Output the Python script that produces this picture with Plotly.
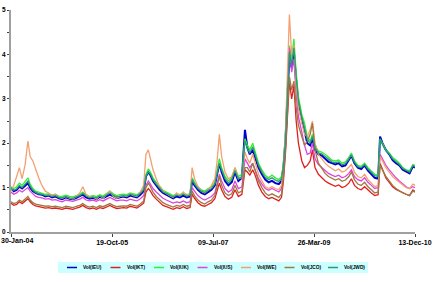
import plotly.graph_objects as go

dates = [
    "2004-01-30","2004-02-16","2004-03-05","2004-03-22","2004-04-08","2004-04-26","2004-05-14","2004-05-28","2004-06-14",
    "2004-07-01","2004-07-20","2004-08-09","2004-08-30","2004-09-20","2004-10-11","2004-11-01","2004-11-22","2004-12-13",
    "2005-01-05","2005-01-28","2005-02-18","2005-03-11","2005-04-01","2005-04-20","2005-05-10","2005-06-01","2005-06-22",
    "2005-07-13","2005-08-03","2005-08-24","2005-09-14","2005-10-05","2005-10-26","2005-11-16","2005-12-07","2005-12-28",
    "2006-01-18","2006-02-08","2006-03-01","2006-03-22","2006-04-12","2006-05-03","2006-05-17","2006-06-01","2006-06-14",
    "2006-06-30","2006-07-20","2006-08-10","2006-08-31","2006-09-21","2006-10-12","2006-11-02","2006-11-23","2006-12-14",
    "2007-01-04","2007-01-25","2007-02-15","2007-02-28","2007-03-15","2007-04-05","2007-04-26","2007-05-17","2007-06-07",
    "2007-06-28","2007-07-19","2007-08-02","2007-08-16","2007-08-30","2007-09-20","2007-10-11","2007-11-01","2007-11-21",
    "2007-12-12",
    "2008-01-03","2008-01-22","2008-02-06","2008-02-21","2008-03-10","2008-03-25","2008-04-15","2008-05-06","2008-05-27",
    "2008-06-17","2008-07-08","2008-07-29","2008-08-19","2008-09-05","2008-09-17","2008-09-30","2008-10-10","2008-10-24",
    "2008-11-07","2008-11-21","2008-12-05","2008-12-19",
    "2009-01-09","2009-01-26","2009-02-12","2009-03-02","2009-03-16","2009-04-01","2009-04-22","2009-05-13","2009-06-03",
    "2009-06-24","2009-07-15","2009-08-05","2009-08-26","2009-09-16","2009-10-07","2009-10-28","2009-11-13","2009-12-02",
    "2009-12-23",
    "2010-01-13","2010-02-03","2010-02-24","2010-03-17","2010-04-07","2010-04-28","2010-05-10","2010-05-25","2010-06-15",
    "2010-07-06","2010-07-27","2010-08-17","2010-09-07","2010-09-28","2010-10-19","2010-11-09","2010-11-30","2010-12-13",
]

vol_ieu = [
    1.00,0.92,0.95,1.02,0.98,1.05,1.10,1.00,0.92,0.88,0.85,0.84,0.80,0.82,0.78,0.80,0.76,0.74,
    0.78,0.75,0.74,0.77,0.80,0.84,0.78,0.75,0.77,0.74,0.79,0.76,0.80,0.84,0.80,0.76,0.78,0.80,
    0.78,0.82,0.80,0.78,0.84,0.92,1.25,1.35,1.28,1.15,1.05,0.95,0.88,0.84,0.80,0.76,0.80,0.78,
    0.82,0.78,0.80,1.15,1.05,0.95,0.88,0.85,0.90,0.95,1.05,1.30,1.55,1.35,1.15,1.05,1.12,1.35,1.15,
    1.22,2.30,1.90,1.75,1.85,1.70,1.45,1.30,1.18,1.12,1.15,1.10,1.08,1.15,1.45,2.10,3.00,4.00,3.70,4.05,3.40,2.90,
    2.55,2.25,2.00,1.95,2.10,1.85,1.75,1.72,1.65,1.58,1.55,1.52,1.55,1.48,1.50,1.62,1.72,1.55,1.45,
    1.42,1.50,1.38,1.30,1.22,1.20,2.15,2.00,1.85,1.75,1.62,1.55,1.50,1.40,1.35,1.32,1.48,1.45,
]
vol_ikt = [
    0.65,0.60,0.62,0.68,0.64,0.70,0.75,0.68,0.62,0.59,0.57,0.56,0.54,0.55,0.53,0.54,0.52,0.51,
    0.54,0.52,0.51,0.54,0.56,0.60,0.55,0.52,0.54,0.51,0.55,0.53,0.56,0.60,0.56,0.53,0.54,0.55,
    0.54,0.58,0.56,0.54,0.59,0.65,0.90,0.98,0.92,0.82,0.74,0.66,0.60,0.57,0.54,0.51,0.55,0.53,
    0.57,0.53,0.55,0.85,0.76,0.66,0.60,0.58,0.62,0.66,0.75,0.95,1.10,0.95,0.80,0.74,0.78,0.95,0.80,
    0.85,1.40,1.35,1.28,1.40,1.28,1.05,0.90,0.80,0.75,0.78,0.74,0.70,0.78,1.15,1.80,2.60,3.40,3.00,3.30,2.50,2.00,
    1.60,1.45,1.50,1.60,1.85,1.45,1.30,1.22,1.15,1.10,1.06,1.03,1.06,1.00,1.03,1.10,1.20,1.05,0.98,
    0.95,1.02,0.94,0.88,0.82,0.84,1.55,1.40,1.22,1.12,1.02,0.96,0.92,0.88,0.85,0.82,0.95,0.92,
]
vol_iuk = [
    1.02,0.98,1.02,1.10,1.05,1.15,1.22,1.08,0.98,0.92,0.90,0.88,0.85,0.86,0.83,0.85,0.81,0.80,
    0.83,0.80,0.79,0.82,0.85,0.90,0.84,0.80,0.82,0.80,0.84,0.81,0.86,0.92,0.86,0.82,0.84,0.85,
    0.84,0.88,0.86,0.84,0.90,0.98,1.30,1.42,1.35,1.22,1.12,1.02,0.94,0.90,0.86,0.82,0.86,0.84,
    0.88,0.84,0.86,1.22,1.12,1.02,0.95,0.92,0.98,1.02,1.12,1.38,1.65,1.45,1.25,1.15,1.22,1.45,1.25,
    1.30,2.10,1.95,1.85,2.00,1.80,1.55,1.40,1.28,1.22,1.28,1.22,1.18,1.25,1.55,2.20,3.10,4.20,3.90,4.35,3.60,3.05,
    2.65,2.45,2.15,2.05,2.20,1.95,1.82,1.80,1.75,1.68,1.62,1.60,1.62,1.55,1.58,1.68,1.78,1.60,1.50,
    1.48,1.55,1.45,1.38,1.30,1.28,2.10,2.00,1.85,1.78,1.68,1.62,1.55,1.45,1.40,1.38,1.52,1.50,
]
vol_ius = [
    0.90,0.85,0.88,0.94,0.90,0.96,1.00,0.92,0.85,0.80,0.78,0.77,0.74,0.75,0.72,0.73,0.70,0.68,
    0.72,0.70,0.69,0.72,0.74,0.78,0.72,0.70,0.72,0.69,0.73,0.70,0.74,0.78,0.74,0.70,0.72,0.72,
    0.70,0.74,0.72,0.70,0.75,0.82,1.05,1.15,1.08,0.98,0.90,0.82,0.76,0.72,0.68,0.65,0.68,0.66,
    0.70,0.66,0.68,1.00,0.92,0.82,0.76,0.72,0.76,0.80,0.88,1.10,1.30,1.15,0.98,0.90,0.95,1.15,0.98,
    1.02,1.65,1.55,1.45,1.55,1.40,1.20,1.08,0.98,0.94,0.98,0.94,0.90,0.98,1.30,1.95,2.90,4.15,3.60,3.90,3.10,2.60,
    2.25,1.95,1.75,1.78,2.00,1.65,1.52,1.45,1.38,1.32,1.28,1.25,1.28,1.22,1.25,1.32,1.40,1.25,1.18,
    1.15,1.22,1.12,1.05,0.98,1.00,1.75,1.65,1.50,1.40,1.30,1.22,1.15,1.08,1.02,0.98,1.02,1.00,
]
vol_iwe = [
    0.92,1.05,1.25,1.45,1.20,1.50,2.05,1.70,1.60,1.40,1.22,1.05,0.92,0.88,0.82,0.85,0.78,0.76,
    0.80,0.76,0.74,0.80,0.88,1.02,0.85,0.78,0.80,0.74,0.82,0.76,0.84,0.92,0.80,0.76,0.80,0.82,
    0.80,0.86,0.82,0.80,0.90,1.05,1.75,1.85,1.65,1.40,1.20,1.02,0.92,0.86,0.82,0.78,0.88,0.82,
    0.90,0.82,0.86,1.45,1.20,1.02,0.92,0.88,0.95,1.05,1.20,1.60,2.20,1.70,1.35,1.20,1.25,1.45,1.20,
    1.22,1.80,1.65,1.55,1.75,1.55,1.30,1.15,1.02,0.98,1.02,0.98,0.95,1.05,1.50,2.30,3.40,4.90,4.00,4.20,3.30,2.80,
    2.45,2.20,2.15,2.30,2.50,2.00,1.75,1.65,1.55,1.48,1.42,1.38,1.42,1.35,1.38,1.45,1.52,1.35,1.25,
    1.22,1.30,1.18,1.10,1.02,1.05,1.70,1.60,1.45,1.35,1.25,1.18,1.12,1.05,1.00,0.98,1.08,1.05,
]
vol_jco = [
    0.68,0.64,0.66,0.72,0.68,0.74,0.80,0.72,0.66,0.63,0.61,0.60,0.58,0.59,0.57,0.58,0.56,0.55,
    0.58,0.56,0.55,0.58,0.60,0.64,0.59,0.56,0.58,0.55,0.59,0.57,0.60,0.64,0.60,0.57,0.58,0.59,
    0.58,0.62,0.60,0.58,0.63,0.70,1.00,1.10,1.02,0.90,0.80,0.72,0.66,0.62,0.59,0.56,0.60,0.58,
    0.62,0.58,0.60,0.92,0.82,0.72,0.66,0.63,0.68,0.72,0.82,1.05,1.25,1.05,0.88,0.82,0.86,1.05,0.88,
    0.92,1.45,1.45,1.35,1.55,1.40,1.15,1.00,0.88,0.82,0.86,0.82,0.78,0.85,1.25,1.90,2.70,3.50,3.20,3.40,2.80,2.40,
    2.15,1.95,2.05,2.20,2.45,1.85,1.55,1.42,1.32,1.25,1.20,1.17,1.20,1.14,1.17,1.25,1.35,1.18,1.08,
    1.05,1.12,1.02,0.95,0.88,0.90,1.50,1.40,1.25,1.15,1.05,0.98,0.92,0.88,0.85,0.82,0.92,0.90,
]
vol_jwd = [
    0.98,0.94,0.97,1.05,1.00,1.08,1.15,1.03,0.94,0.89,0.86,0.85,0.82,0.83,0.80,0.82,0.78,0.77,
    0.80,0.77,0.76,0.79,0.82,0.87,0.81,0.77,0.79,0.77,0.81,0.78,0.83,0.88,0.83,0.79,0.81,0.82,
    0.81,0.85,0.83,0.81,0.87,0.95,1.25,1.36,1.30,1.18,1.08,0.98,0.90,0.87,0.83,0.79,0.83,0.81,
    0.85,0.81,0.83,1.18,1.08,0.98,0.92,0.89,0.94,0.98,1.08,1.32,1.55,1.40,1.20,1.10,1.18,1.38,1.20,
    1.25,2.05,1.88,1.78,1.92,1.74,1.50,1.35,1.23,1.18,1.22,1.17,1.14,1.20,1.50,2.10,3.00,4.05,3.75,4.15,3.50,2.95,
    2.58,2.35,2.08,2.00,2.15,1.90,1.78,1.76,1.70,1.63,1.58,1.56,1.58,1.51,1.54,1.64,1.74,1.57,1.47,
    1.45,1.52,1.42,1.35,1.27,1.25,2.08,1.98,1.83,1.76,1.65,1.58,1.52,1.43,1.38,1.35,1.50,1.47,
]

series_names = ["Vol(IEU)", "Vol(IKT)", "Vol(IUK)", "Vol(IUS)", "Vol(IWE)", "Vol(JCO)", "Vol(JWD)"]
series_values = [vol_ieu, vol_ikt, vol_iuk, vol_ius, vol_iwe, vol_jco, vol_jwd]
colors = ["#0000CC", "#E02020", "#33EE33", "#DD44DD", "#F4A070", "#A07840", "#2A9A7A"]
widths = [2, 1.3, 1.3, 1.3, 1.3, 1.3, 1.3]

tick_dates = ["2004-01-30", "2005-10-19", "2007-07-09", "2009-03-26", "2010-12-13"]
tick_labels = ["30-Jan-04", "19-Oct-05", "09-Jul-07", "26-Mar-09", "13-Dec-10"]

fig = go.Figure()
for name, vals, col, w in zip(series_names, series_values, colors, widths):
    fig.add_trace(go.Scatter(x=dates, y=vals, mode="lines", name=name,
                             line=dict(color=col, width=w), showlegend=False))

font_family = "Liberation Sans, Arial, sans-serif"
tick_font = dict(size=7, weight="bold", family=font_family, color="#000000")
fig.update_layout(
    width=435, height=282,
    margin=dict(l=11, r=20, t=10, b=50),
    paper_bgcolor="white", plot_bgcolor="white",
    font=dict(family=font_family, color="#000000"),
)
# first label is drawn as an annotation so it stays inside the page (as in the original)
axis_text = [""] + tick_labels[1:]
fig.update_xaxes(
    type="date", range=["2004-01-30", "2010-12-13"],
    tickvals=tick_dates, ticktext=axis_text, ticklabeloverflow="allow",
    tickfont=tick_font,
    showgrid=False, zeroline=False, showline=True, linecolor="#A0A0A0", linewidth=2,
    ticks="outside", ticklen=3, tickcolor="#404040", tickwidth=1, automargin=False,
)
fig.update_yaxes(
    range=[0, 5], tickvals=[0, 1, 2, 3, 4, 5], ticklabeloverflow="allow",
    tickfont=dict(size=6.5, weight="bold", family=font_family),
    showgrid=False, zeroline=False, showline=True, linecolor="#A0A0A0", linewidth=2,
    ticks="outside", ticklen=2, tickcolor="#404040", tickwidth=1, automargin=False,
    minor=dict(dtick=0.5, ticks="outside", ticklen=2, tickcolor="#404040", showgrid=False),
)

plot_left, plot_w, plot_bottom, plot_h = 11, 404, 232, 222
def px_x(p):
    return (p - plot_left) / plot_w
def px_y(p):
    return (plot_bottom - p) / plot_h

fig.add_annotation(xref="paper", yref="paper", x=px_x(0), y=px_y(236.5),
                   text=tick_labels[0], showarrow=False, xanchor="left", yanchor="top",
                   font=tick_font, borderpad=0)

# Legend box (manual, compact as in the original)
fig.add_shape(type="rect", xref="paper", yref="paper",
              x0=px_x(58), x1=px_x(368), y0=px_y(262), y1=px_y(273),
              fillcolor="#CCFFFF", line=dict(width=0), layer="below")
start, pitch = 67, 43.5
for i, (name, col) in enumerate(zip(series_names, colors)):
    x0 = start + i * pitch
    fig.add_shape(type="line", xref="paper", yref="paper",
                  x0=px_x(x0), x1=px_x(x0 + 10), y0=px_y(267.5), y1=px_y(267.5),
                  line=dict(color=col, width=1.5))
    fig.add_annotation(xref="paper", yref="paper", x=px_x(x0 + 14), y=px_y(267.5),
                       text=name, showarrow=False, xanchor="left", yanchor="middle",
                       font=dict(size=4.8, weight="bold", family=font_family, color="#000000"))

fig.write_html("out.html")
